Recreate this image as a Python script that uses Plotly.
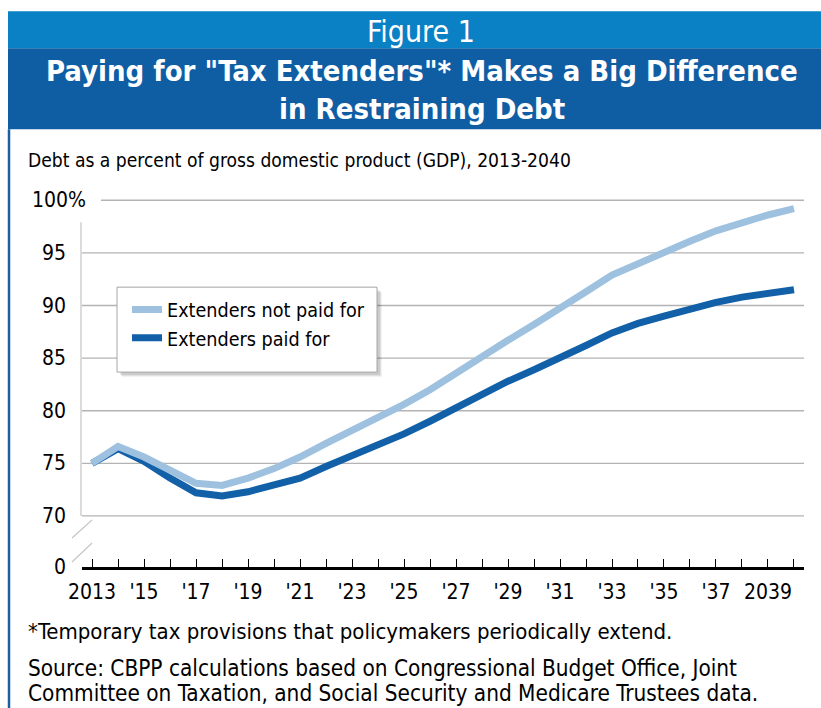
import plotly.graph_objects as go

# ---- data ----
years = list(range(2013, 2041))
not_paid = [75.0, 76.6, 75.6, 74.3, 73.1, 72.9, 73.6, 74.5, 75.6, 76.9, 78.1, 79.3, 80.6, 82.0,
            83.6, 85.2, 86.7, 88.2, 89.7, 91.3, 92.9, 94.0, 95.1, 96.1, 97.1, 97.9, 98.6, 99.2]
paid = [75.0, 76.4, 75.2, 73.6, 72.2, 71.9, 72.3, 72.9, 73.6, 74.7, 75.7, 76.7, 77.8, 79.0,
        80.3, 81.6, 82.8, 83.9, 85.0, 86.2, 87.4, 88.3, 89.0, 89.7, 90.3, 90.8, 91.2, 91.5]
x_labels = ["2013", "", "'15", "", "'17", "", "'19", "", "'21", "", "'23", "", "'25", "",
            "'27", "", "'29", "", "'31", "", "'33", "", "'35", "", "'37", "", "2039", ""]
y_ticks = [70, 75, 80, 85, 90, 95, 100]
y_labels = ["70", "75", "80", "85", "90", "95", "100%"]
zero_pos = 65.15  # axis-break position standing in for 0
zero_label = "0"

W, H = 821, 708
L, R, T, B = 82, 17, 194.8, 141
PW, PH = W - L - R, H - T - B

def xp(px):
    return (px - L) / PW

def yp(py):
    return (H - B - py) / PH

FONT = "DejaVu Sans Condensed, Roboto, sans-serif"
LIGHT = "#9dc1de"
DARK = "#1160a8"

fig = go.Figure()
fig.add_trace(go.Scatter(x=years, y=paid, mode="lines", name="Extenders paid for",
                         line=dict(color=DARK, width=7)))
fig.add_trace(go.Scatter(x=years, y=not_paid, mode="lines", name="Extenders not paid for",
                         line=dict(color=LIGHT, width=7)))

shapes = []
# header bands
shapes.append(dict(type="rect", xref="paper", yref="paper", x0=xp(8), x1=xp(821), y0=yp(48), y1=yp(11),
                   fillcolor="#0a80c5", line=dict(width=0), layer="below"))
shapes.append(dict(type="rect", xref="paper", yref="paper", x0=xp(8), x1=xp(821), y0=yp(129), y1=yp(48),
                   fillcolor="#0f5ea4", line=dict(width=0), layer="below"))
# left border
shapes.append(dict(type="line", xref="paper", yref="paper", x0=xp(9), x1=xp(9), y0=yp(129), y1=yp(708),
                   line=dict(color="#1a5fa2", width=2.5)))
# gridlines
for v in y_ticks:
    x0 = xp(101) if v == 100 else 0
    shapes.append(dict(type="line", xref="paper", yref="y", x0=x0, x1=1, y0=v, y1=v,
                       line=dict(color="#b3b3b3", width=1.3), layer="below"))
# y axis line
shapes.append(dict(type="line", xref="paper", yref="y", x0=xp(81), x1=xp(81), y0=70, y1=97.9,
                   line=dict(color="#c8c8c8", width=1.3), layer="below"))
# axis-break slashes
for (a, b) in [((72, 538), (92, 520)), ((72, 562), (92, 543))]:
    shapes.append(dict(type="line", xref="paper", yref="paper", x0=xp(a[0]), y0=yp(a[1]),
                       x1=xp(b[0]), y1=yp(b[1]), line=dict(color="#c8c8c8", width=1.3)))
# legend box with soft shadow
for off, alpha in [(5, 0.05), (4, 0.07), (3, 0.09)]:
    shapes.append(dict(type="rect", xref="paper", yref="paper", x0=xp(117 + off), x1=xp(377 + off),
                       y0=yp(372 + off), y1=yp(287 + off),
                       fillcolor="rgba(0,0,0,%s)" % alpha, line=dict(width=0)))
shapes.append(dict(type="rect", xref="paper", yref="paper", x0=xp(117), x1=xp(377), y0=yp(372), y1=yp(287),
                   fillcolor="white", line=dict(color="#a6a6a6", width=1)))

ann = []
ann.append(dict(text="Figure 1", x=xp(421), y=yp(31), xref="paper", yref="paper", showarrow=False,
                xanchor="center", yanchor="middle", font=dict(family=FONT, size=30, color="white")))
ann.append(dict(text='<b>Paying for "Tax Extenders"* Makes a Big Difference</b>', x=xp(422), y=yp(71),
                xref="paper", yref="paper", showarrow=False, xanchor="center", yanchor="middle",
                font=dict(family=FONT, size=29, color="white")))
ann.append(dict(text="<b>in Restraining Debt</b>", x=xp(422), y=yp(109),
                xref="paper", yref="paper", showarrow=False, xanchor="center", yanchor="middle",
                font=dict(family=FONT, size=29, color="white")))
ann.append(dict(text="Debt as a percent of gross domestic product (GDP), 2013-2040", x=xp(26), y=yp(160),
                xref="paper", yref="paper", showarrow=False, xanchor="left", yanchor="middle",
                font=dict(family=FONT, size=19.1, color="black")))
ann.append(dict(text="*Temporary tax provisions that policymakers periodically extend.", x=xp(26), y=yp(632),
                xref="paper", yref="paper", showarrow=False, xanchor="left", yanchor="middle",
                font=dict(family=FONT, size=22.0, color="black")))
ann.append(dict(text="Source: CBPP calculations based on Congressional Budget Office, Joint", x=xp(26), y=yp(668),
                xref="paper", yref="paper", showarrow=False, xanchor="left", yanchor="middle",
                font=dict(family=FONT, size=22.4, color="black")))
ann.append(dict(text="Committee on Taxation, and Social Security and Medicare Trustees data.", x=xp(26), y=yp(693),
                xref="paper", yref="paper", showarrow=False, xanchor="left", yanchor="middle",
                font=dict(family=FONT, size=22.4, color="black")))
# y tick labels
for v, t in zip(y_ticks, y_labels):
    ann.append(dict(text=t, x=xp(88 if t.endswith("%") else 68), y=v, xref="paper", yref="y",
                    showarrow=False, xanchor="right", yanchor="middle",
                    font=dict(family=FONT, size=21, color="black")))
ann.append(dict(text=zero_label, x=xp(68), y=zero_pos, xref="paper", yref="y",
                showarrow=False, xanchor="right", yanchor="middle",
                font=dict(family=FONT, size=21, color="black")))

fig.update_layout(
    width=W, height=H, margin=dict(l=L, r=R, t=T, b=B),
    paper_bgcolor="white", plot_bgcolor="white",
    shapes=shapes, annotations=ann,
    showlegend=True,
    legend=dict(x=xp(127), y=yp(290), xanchor="left", yanchor="top", traceorder="reversed",
                bgcolor="rgba(0,0,0,0)", borderwidth=0,
                font=dict(family=FONT, size=19.6, color="black"), itemwidth=30, tracegroupgap=0),
    xaxis=dict(range=[2012.615, 2040.385], tickmode="array", tickvals=years, ticktext=x_labels,
               ticks="inside", ticklen=8, tickwidth=1.2, tickcolor="black",
               showline=True, linecolor="black", linewidth=3, showgrid=False, zeroline=False,
               tickfont=dict(family=FONT, size=21, color="black"), ticklabelstandoff=4),
    yaxis=dict(range=[zero_pos, 100.5], showticklabels=False, showgrid=False, zeroline=False,
               showline=False, ticks=""),
)

fig.write_html("out.html")
